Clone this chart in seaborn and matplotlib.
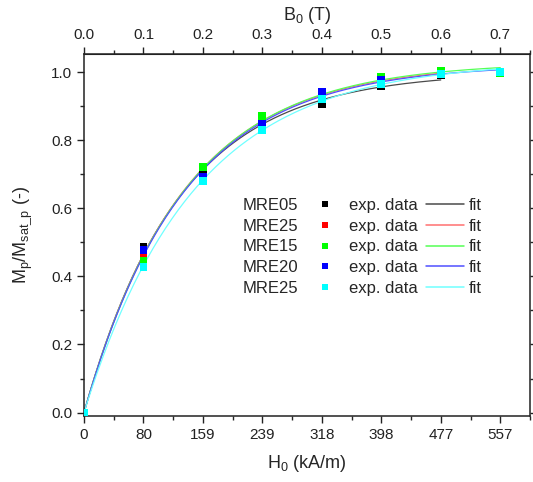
import numpy as np
import pandas as pd
import matplotlib
matplotlib.use("Agg")
import matplotlib.pyplot as plt
from matplotlib.lines import Line2D
from matplotlib.ticker import MultipleLocator
import seaborn as sns

# Measured saturation curves: normalised magnetisation vs. applied flux density B0 (T)
b0_mre05 = [0.0, 0.1, 0.2, 0.3, 0.4, 0.5, 0.6]
m_mre05 = [0.0, 0.487, 0.698, 0.845, 0.905, 0.958, 0.990]

b0_mre25a = [0.0, 0.1, 0.2, 0.3, 0.4, 0.5, 0.6]
m_mre25a = [0.0, 0.460, 0.720, 0.860, 0.930, 0.975, 0.995]

b0_mre15 = [0.0, 0.1, 0.2, 0.3, 0.4, 0.5, 0.6, 0.7]
m_mre15 = [0.0, 0.445, 0.722, 0.871, 0.930, 0.986, 1.003, 0.998]

b0_mre20 = [0.0, 0.1, 0.2, 0.3, 0.4, 0.5, 0.6, 0.7]
m_mre20 = [0.0, 0.477, 0.693, 0.849, 0.941, 0.976, 0.995, 1.000]

b0_mre25b = [0.0, 0.1, 0.2, 0.3, 0.4, 0.5, 0.6, 0.7]
m_mre25b = [0.0, 0.427, 0.681, 0.831, 0.922, 0.966, 0.995, 1.000]

sample_names = ["MRE05", "MRE25", "MRE15", "MRE20", "MRE25"]
sample_keys = ["s1", "s2", "s3", "s4", "s5"]
marker_colors = ["#000000", "#ff0000", "#00ff00", "#0000ff", "#00ffff"]
fit_colors = ["#4a4a4a", "#ff7070", "#55ff55", "#5050ff", "#70ffff"]

# Bottom axis: H0 = B0 / mu0 in kA/m
b_ticks = [0.0, 0.1, 0.2, 0.3, 0.4, 0.5, 0.6, 0.7]
h_tick_labels = ["0", "80", "159", "239", "318", "398", "477", "557"]

series = [(b0_mre05, m_mre05), (b0_mre25a, m_mre25a), (b0_mre15, m_mre15),
          (b0_mre20, m_mre20), (b0_mre25b, m_mre25b)]


def fit_saturation(x, y):
    """Least-squares fit of y = A * (1 - exp(-k x)); returns A, k."""
    x = np.asarray(x, float)
    y = np.asarray(y, float)
    best = None
    for k in np.linspace(1.0, 15.0, 2801):
        basis = 1.0 - np.exp(-k * x)
        a = basis @ y / (basis @ basis)
        err = np.sum((a * basis - y) ** 2)
        if best is None or err < best[0]:
            best = (err, a, k)
    return best[1], best[2]


points = []
curves = []
for key, (bx, my) in zip(sample_keys, series):
    for xv, yv in zip(bx, my):
        points.append({"B": xv, "M": yv, "sample": key})
    a, k = fit_saturation(bx, my)
    xs = np.linspace(0.0, max(bx), 200)
    for xv in xs:
        curves.append({"B": xv, "M": a * (1 - np.exp(-k * xv)), "sample": key})
df_pts = pd.DataFrame(points)
df_fit = pd.DataFrame(curves)

sns.set_style("ticks")
plt.rcParams["font.family"] = ["Liberation Sans", "DejaVu Sans"]
plt.rcParams["mathtext.fontset"] = "custom"
plt.rcParams["mathtext.rm"] = "Liberation Sans"
plt.rcParams["mathtext.it"] = "Liberation Sans"

fig = plt.figure(figsize=(5.33, 4.82), dpi=100)
ax = fig.add_axes([84 / 533, 1 - 416 / 482, (530 - 84) / 533, (416 - 54) / 482])

sns.lineplot(data=df_fit, x="B", y="M", hue="sample", hue_order=sample_keys,
             palette=fit_colors, linewidth=0.9, legend=False, ax=ax, zorder=2)
sns.scatterplot(data=df_pts, x="B", y="M", hue="sample", hue_order=sample_keys,
                palette=marker_colors, marker="s", s=32, linewidth=0,
                legend=False, ax=ax, zorder=3)

ax.set_xlim(0.0, 0.75)
ax.set_ylim(-0.01, 1.053)
ax.set_xticks(b_ticks)
ax.set_xticklabels(h_tick_labels)
ax.xaxis.set_minor_locator(MultipleLocator(0.05))
ax.yaxis.set_major_locator(MultipleLocator(0.2))
ax.yaxis.set_minor_locator(MultipleLocator(0.1))
ax.yaxis.set_major_formatter(matplotlib.ticker.FormatStrFormatter("%.1f"))
ax.tick_params(which="major", direction="out", length=5, width=1, labelsize=11,
               colors="#222222", right=True, labelright=False)
ax.tick_params(which="minor", direction="out", length=3, width=1, right=True)
for sp in ax.spines.values():
    sp.set_visible(True)
    sp.set_linewidth(1.1)
    sp.set_color("#222222")

ax.set_xlabel(r"H$_\mathregular{0}$ (kA/m)", fontsize=13, labelpad=8)
ax.set_ylabel(r"M$_\mathregular{p}$/M$_\mathregular{sat\_p}$ (-)", fontsize=13, labelpad=12)

top = ax.secondary_xaxis("top")
top.set_xticks(b_ticks)
top.xaxis.set_major_formatter(matplotlib.ticker.FormatStrFormatter("%.1f"))
top.xaxis.set_minor_locator(MultipleLocator(0.05))
top.tick_params(which="major", direction="out", length=5, width=1, labelsize=11,
                colors="#222222")
top.tick_params(which="minor", direction="out", length=3, width=1)
top.set_xlabel(r"B$_\mathregular{0}$ (T)", fontsize=13, labelpad=6)

# Three-column key: sample name | measured marker | fitted line
blank = [Line2D([], [], linestyle="none", marker=None) for _ in sample_names]
mk = [Line2D([], [], linestyle="none", marker="s", markersize=5,
             markerfacecolor=c, markeredgewidth=0) for c in marker_colors]
ln = [Line2D([], [], color=c, linewidth=1.1) for c in fit_colors]
labels = sample_names + ["exp. data"] * 5 + ["fit"] * 5
ax.legend(blank + mk + ln, labels, ncol=3, frameon=False, fontsize=12,
          loc="upper left", bbox_to_anchor=(0.244, 0.6215),
          handlelength=2.3, handletextpad=0.3, columnspacing=0.45,
          labelspacing=0.35, borderaxespad=0)

fig.savefig("out.png", dpi=100)
